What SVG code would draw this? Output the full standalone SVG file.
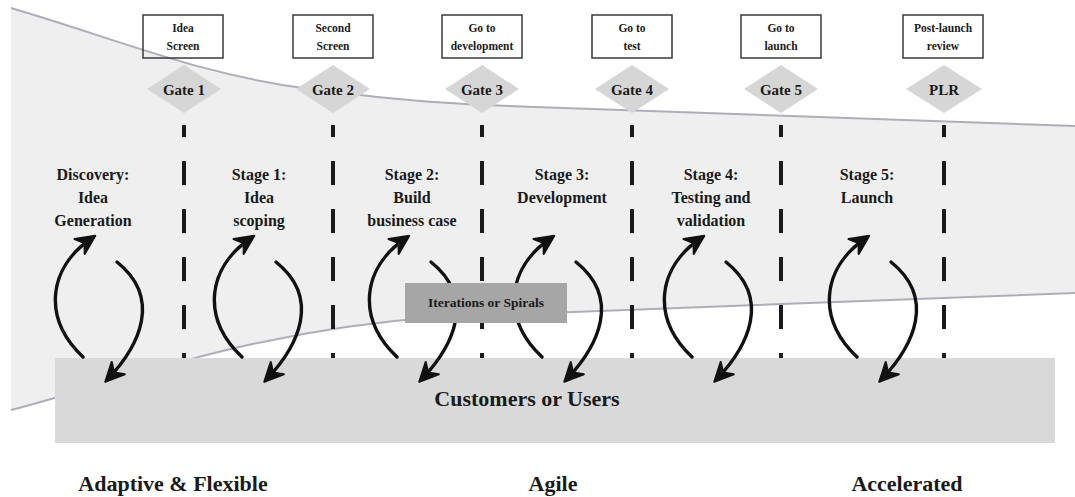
<svg xmlns="http://www.w3.org/2000/svg" width="1075" height="497" viewBox="0 0 1075 497">
  <style>
    text { font-family: "Liberation Serif", "Times New Roman", serif; font-weight: bold; fill: #1a1a1a; text-anchor: middle; }
    .box { fill: none; stroke: #3a3a3a; stroke-width: 1.5; }
    .boxtxt { font-size: 11.5px; }
    .gate { fill: #d6d6d6; }
    .gatetxt { font-size: 15px; }
    .stage { font-size: 16px; }
    .dash { stroke: #1a1a1a; stroke-width: 4; stroke-dasharray: 24 24; stroke-dashoffset: 12; }
    .edge { fill: none; stroke: #aeaebb; stroke-width: 2; }
    .arc { fill: none; stroke: #111; stroke-width: 3.4; stroke-linecap: round; marker-end: url(#head); }
    .big { font-size: 22px; }
  </style>
  <defs>
    <marker id="head" markerUnits="userSpaceOnUse" orient="auto" viewBox="-20 -12 26 24" markerWidth="26" markerHeight="24" refX="0" refY="0">
      <path d="M4,0 L-15,-9 L-9,0 L-15,9 Z" fill="#111" stroke="#111" stroke-width="2" stroke-linejoin="round"/>
    </marker>
  </defs>

  <!-- funnel backdrop -->
  <g id="funnel">
    <path d="M11,8 C120,40 200,75 310,89 S460,104 535,107 L1075,126 L1075,293 L440,317 C250,330 120,382 11,410 Z" fill="#efefef"/>
    <path class="edge" d="M11,8 C120,40 200,75 310,89 S460,104 535,107 L1075,126"/>
    <path class="edge" d="M11,410 C120,382 250,330 440,317 L1075,293"/>
  </g>

  <!-- gate dividers -->
  <g id="dividers">
    <line class="dash" x1="184" y1="125" x2="184" y2="358"/>
    <line class="dash" x1="333" y1="125" x2="333" y2="358"/>
    <line class="dash" x1="482" y1="125" x2="482" y2="358"/>
    <line class="dash" x1="632" y1="125" x2="632" y2="358"/>
    <line class="dash" x1="781" y1="125" x2="781" y2="358"/>
    <line class="dash" x1="944" y1="125" x2="944" y2="358"/>
  </g>

  <g id="customers">
    <rect x="55" y="358" width="1000" height="85" fill="#d9d9d9"/>
    <text class="big" x="527" y="406">Customers or Users</text>
  </g>

  <!-- iteration loops -->
  <g id="connectors">
    <g id="loop0">
      <path class="arc" d="M83,357 C42,318 48,268 92,238"/>
      <path class="arc" d="M117,262 C162,298 140,345 108,379"/>
    </g>
    <g id="loop1" transform="translate(159,0)">
      <path class="arc" d="M83,357 C42,318 48,268 92,238"/>
      <path class="arc" d="M117,262 C162,298 140,345 108,379"/>
    </g>
    <g id="loop2" transform="translate(314,0)">
      <path class="arc" d="M83,357 C42,318 48,268 92,238"/>
      <path class="arc" d="M117,262 C162,298 140,345 108,379"/>
    </g>
    <g id="loop3" transform="translate(459,0)">
      <path class="arc" d="M83,357 C42,318 48,268 92,238"/>
      <path class="arc" d="M117,262 C162,298 140,345 108,379"/>
    </g>
    <g id="loop4" transform="translate(609,0)">
      <path class="arc" d="M83,357 C42,318 48,268 92,238"/>
      <path class="arc" d="M117,262 C162,298 140,345 108,379"/>
    </g>
    <g id="loop5" transform="translate(774,0)">
      <path class="arc" d="M83,357 C42,318 48,268 92,238"/>
      <path class="arc" d="M117,262 C162,298 140,345 108,379"/>
    </g>
  </g>

  <g id="iterations">
    <rect x="405" y="283" width="162" height="40" fill="#a6a6a6"/>
    <text x="486" y="307" font-size="13.5px">Iterations or Spirals</text>
  </g>

  <!-- decision boxes -->
  <g id="box1"><rect class="box" x="143" y="15" width="80" height="43"/><text class="boxtxt" x="183" y="32">Idea</text><text class="boxtxt" x="183" y="50">Screen</text></g>
  <g id="box2"><rect class="box" x="293" y="15" width="80" height="43"/><text class="boxtxt" x="333" y="32">Second</text><text class="boxtxt" x="333" y="50">Screen</text></g>
  <g id="box3"><rect class="box" x="442" y="15" width="80" height="43"/><text class="boxtxt" x="482" y="32">Go to</text><text class="boxtxt" x="482" y="50">development</text></g>
  <g id="box4"><rect class="box" x="592" y="15" width="80" height="43"/><text class="boxtxt" x="632" y="32">Go to</text><text class="boxtxt" x="632" y="50">test</text></g>
  <g id="box5"><rect class="box" x="741" y="15" width="80" height="43"/><text class="boxtxt" x="781" y="32">Go to</text><text class="boxtxt" x="781" y="50">launch</text></g>
  <g id="box6"><rect class="box" x="903" y="15" width="80" height="43"/><text class="boxtxt" x="943" y="32">Post-launch</text><text class="boxtxt" x="943" y="50">review</text></g>

  <!-- gates -->
  <g id="gate1"><polygon class="gate" points="184,65 221,89 184,113 147,89"/><text class="gatetxt" x="184" y="95">Gate 1</text></g>
  <g id="gate2"><polygon class="gate" points="333,65 370,89 333,113 296,89"/><text class="gatetxt" x="333" y="95">Gate 2</text></g>
  <g id="gate3"><polygon class="gate" points="482,65 519,89 482,113 445,89"/><text class="gatetxt" x="482" y="95">Gate 3</text></g>
  <g id="gate4"><polygon class="gate" points="632,65 669,89 632,113 595,89"/><text class="gatetxt" x="632" y="95">Gate 4</text></g>
  <g id="gate5"><polygon class="gate" points="781,65 818,89 781,113 744,89"/><text class="gatetxt" x="781" y="95">Gate 5</text></g>
  <g id="gate6"><polygon class="gate" points="944,65 982,89 944,113 906,89"/><text class="gatetxt" x="944" y="95">PLR</text></g>

  <!-- stage titles -->
  <g id="stage0"><text class="stage" x="93" y="180">Discovery:</text><text class="stage" x="93" y="203">Idea</text><text class="stage" x="93" y="226">Generation</text></g>
  <g id="stage1"><text class="stage" x="259" y="180">Stage 1:</text><text class="stage" x="259" y="203">Idea</text><text class="stage" x="259" y="226">scoping</text></g>
  <g id="stage2"><text class="stage" x="412" y="180">Stage 2:</text><text class="stage" x="412" y="203">Build</text><text class="stage" x="412" y="226">business case</text></g>
  <g id="stage3"><text class="stage" x="562" y="180">Stage 3:</text><text class="stage" x="562" y="203">Development</text></g>
  <g id="stage4"><text class="stage" x="711" y="180">Stage 4:</text><text class="stage" x="711" y="203">Testing and</text><text class="stage" x="711" y="226">validation</text></g>
  <g id="stage5"><text class="stage" x="867" y="180">Stage 5:</text><text class="stage" x="867" y="203">Launch</text></g>

  <!-- approach labels -->
  <g id="labels">
    <text class="big" x="173" y="491">Adaptive &amp; Flexible</text>
    <text class="big" x="553" y="491">Agile</text>
    <text class="big" x="907" y="491">Accelerated</text>
  </g>
</svg>
